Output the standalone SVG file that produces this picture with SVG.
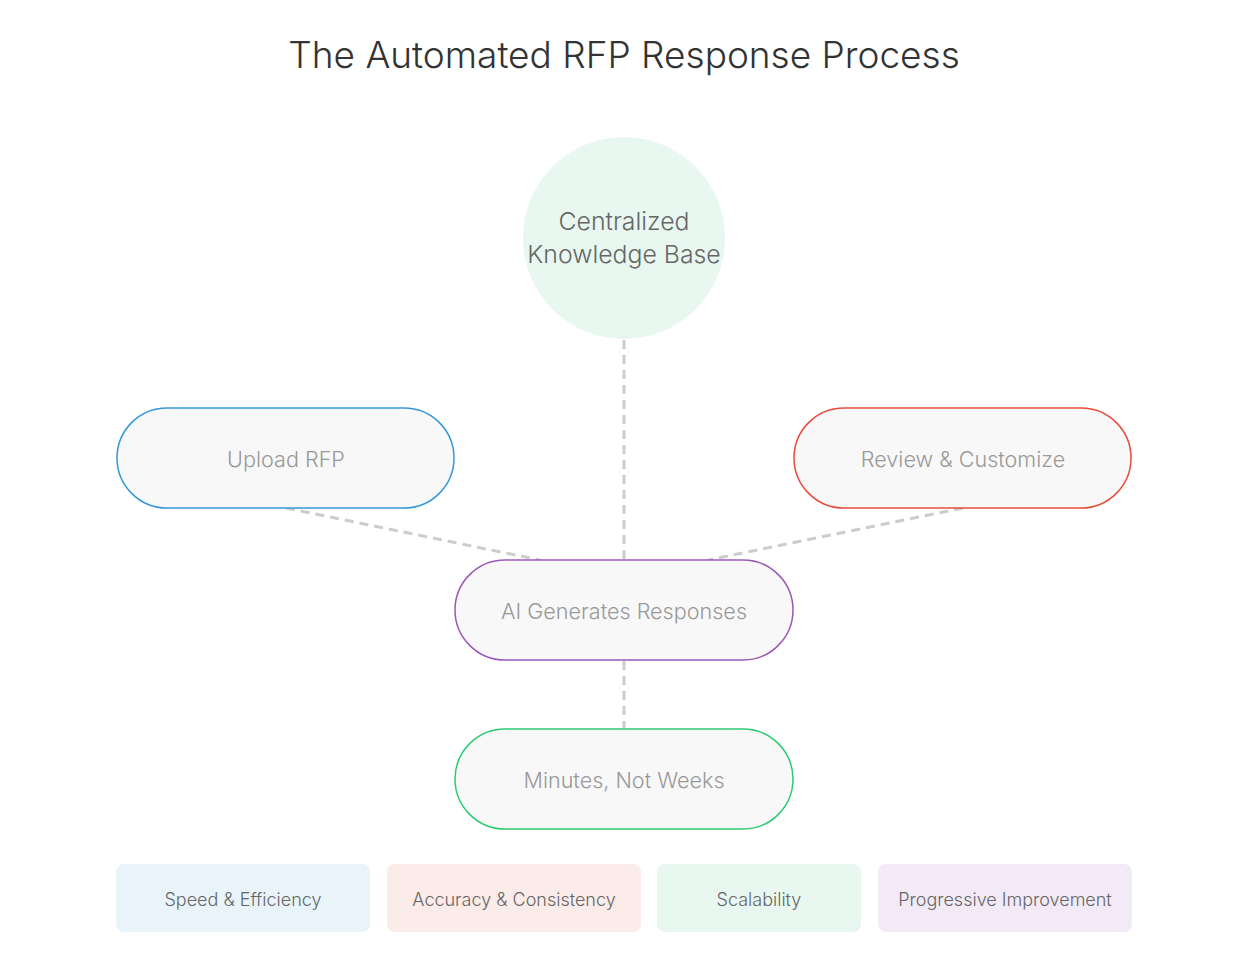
<svg xmlns="http://www.w3.org/2000/svg" width="1256" height="968" viewBox="0 0 1256 968">
<style>
text{font-family:"Inter","Roboto","Liberation Sans",sans-serif;font-weight:300;text-anchor:middle;dominant-baseline:central}
.title{font-size:37px;fill:#333}
.pill{fill:#f8f8f8;stroke-width:1.5}
.pt{font-size:21.6px;fill:#999}
.ct{font-size:24.8px;fill:#666}
.bt{font-size:18px;fill:#666}
.conn{stroke:#ccc;stroke-width:3;stroke-dasharray:9,6;fill:none}
</style>
<rect width="1256" height="968" fill="#fff"/>
<text class="title" x="624" y="54">The Automated RFP Response Process</text>
<g id="connectors">
<line class="conn" x1="624" y1="340" x2="624" y2="560"/>
<line class="conn" x1="286" y1="508" x2="540" y2="560"/>
<line class="conn" x1="963" y1="508" x2="708" y2="560"/>
<line class="conn" x1="624" y1="661" x2="624" y2="729"/>
</g>
<g id="kb">
<circle cx="624" cy="238" r="101" fill="#e8f8f0"/>
<text class="ct" x="624" y="221">Centralized</text>
<text class="ct" x="624" y="254">Knowledge Base</text>
</g>
<g id="upload">
<rect class="pill" x="117" y="408" width="337" height="100" rx="50" stroke="#3498db"/>
<text class="pt" x="286" y="459">Upload RFP</text>
</g>
<g id="review">
<rect class="pill" x="794" y="408" width="337" height="100" rx="50" stroke="#e74c3c"/>
<text class="pt" x="963" y="459">Review &amp; Customize</text>
</g>
<g id="ai">
<rect class="pill" x="455" y="560" width="338" height="100" rx="50" stroke="#9b59b6"/>
<text class="pt" x="624" y="611">AI Generates Responses</text>
</g>
<g id="minutes">
<rect class="pill" x="455" y="729" width="338" height="100" rx="50" stroke="#2ecc71"/>
<text class="pt" x="624" y="780">Minutes, Not Weeks</text>
</g>
<g id="speed">
<rect x="116" y="864" width="254" height="68" rx="8" fill="#e8f4fa"/>
<text class="bt" x="243" y="899">Speed &amp; Efficiency</text>
</g>
<g id="accuracy">
<rect x="387" y="864" width="254" height="68" rx="8" fill="#fbebe9"/>
<text class="bt" x="514" y="899">Accuracy &amp; Consistency</text>
</g>
<g id="scalability">
<rect x="657" y="864" width="204" height="68" rx="8" fill="#e8f8f0"/>
<text class="bt" x="759" y="899">Scalability</text>
</g>
<g id="progressive">
<rect x="878" y="864" width="254" height="68" rx="8" fill="#f3eaf7"/>
<text class="bt" x="1005" y="899">Progressive Improvement</text>
</g>
</svg>
